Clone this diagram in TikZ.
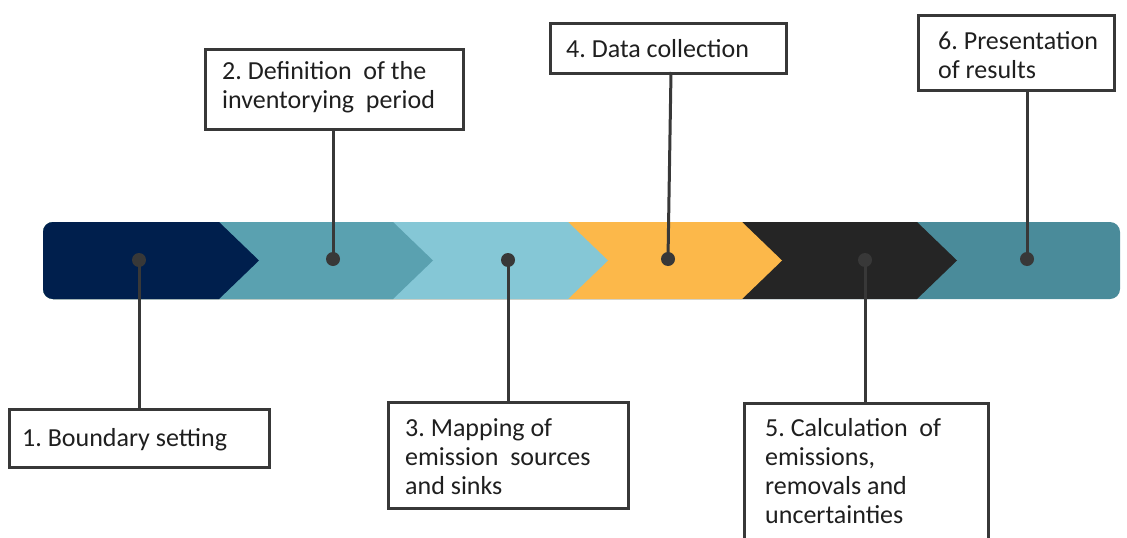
\documentclass[tikz,border=0pt]{standalone}
\usepackage{fontspec}
\setmainfont{Carlito}
\definecolor{cnavy}{HTML}{001F4D}
\definecolor{cteal}{HTML}{5AA1B0}
\definecolor{clight}{HTML}{85C7D6}
\definecolor{corange}{HTML}{FCB84A}
\definecolor{cblack}{HTML}{252525}
\definecolor{cteallast}{HTML}{4A8B9A}
\definecolor{cline}{HTML}{383838}
\begin{document}
\begin{tikzpicture}[x=1pt,y=-1pt,
  framebox/.style={draw=cline, line width=3pt, fill=white, anchor=north west, inner sep=0pt},
  boxtext/.style={anchor=west, align=left, inner sep=0pt,
    font=\fontsize{26}{29}\selectfont\frenchspacing, text=black!88},
  conn/.style={draw=cline, line width=3pt},
  dotnode/.style={circle, fill=cline, minimum size=14pt, inner sep=0pt}]
\clip (0,0) rectangle (1127,538);
\fill[white] (0,0) rectangle (1127,538);
% bar
\begin{scope}
\clip[rounded corners=10pt] (43,222) rectangle (1120,299);
\fill[cteallast] (40,220) rectangle (1125,302);
\fill[cblack]  (40,220) -- (917,220) -- (917,222) -- (957,260.5) -- (917,299) -- (917,302) -- (40,302) -- cycle;
\fill[corange] (40,220) -- (742,220) -- (742,222) -- (782,260.5) -- (742,299) -- (742,302) -- (40,302) -- cycle;
\fill[clight]  (40,220) -- (568,220) -- (568,222) -- (608,260.5) -- (568,299) -- (568,302) -- (40,302) -- cycle;
\fill[cteal]   (40,220) -- (393,220) -- (393,222) -- (433,260.5) -- (393,299) -- (393,302) -- (40,302) -- cycle;
\fill[cnavy]   (40,220) -- (219,220) -- (219,222) -- (259,260.5) -- (219,299) -- (219,302) -- (40,302) -- cycle;
\end{scope}
% dots
\node[dotnode] (d1) at (139,260) {};
\node[dotnode] (d2) at (333,259) {};
\node[dotnode] (d3) at (508,260) {};
\node[dotnode] (d4) at (668,259) {};
\node[dotnode] (d5) at (865,260) {};
\node[dotnode] (d6) at (1027,259) {};
% boxes
\node[framebox, minimum width=260pt, minimum height=58pt] (b1) at (8,408) {};
\node[framebox, minimum width=258pt, minimum height=80pt] (b2) at (204,48) {};
\node[framebox, minimum width=240pt, minimum height=106pt] (b3) at (387,401) {};
\node[framebox, minimum width=236pt, minimum height=50pt] (b4) at (549,22) {};
\node[framebox, minimum width=244pt, minimum height=140pt] (b5) at (743,402) {};
\node[framebox, minimum width=196pt, minimum height=75pt] (b6) at (917,14) {};
% texts
\node[boxtext] (t1) at ([xshift=14pt,yshift=-1pt]b1.west) {1. Boundary setting};
\node[boxtext] (t2) at ([xshift=18pt,yshift=2pt]b2.west) {2. Definition\ \ of the\\inventorying\ \ period};
\node[boxtext] (t3) at ([xshift=18pt,yshift=-1pt]b3.west) {3. Mapping of\\emission\ \ sources\\and sinks};
\node[boxtext] (t4) at ([xshift=17pt]b4.west) {4. Data collection};
\node[boxtext] (t5) at ([xshift=22pt,yshift=2pt]b5.west) {5. Calculation\ \ of\\emissions,\\removals and\\uncertainties};
\node[boxtext] (t6) at ([xshift=21pt,yshift=-2pt]b6.west) {6. Presentation\\of results};
% connectors
\coordinate (c4) at (671,72);
\draw[conn] (d1.center) -- (d1 |- b1.north);
\draw[conn] (d2.center) -- (d2 |- b2.south);
\draw[conn] (d3.center) -- (d3 |- b3.north);
\draw[conn] (d4.center) -- (c4);
\draw[conn] (d5.center) -- (d5 |- b5.north);
\draw[conn] (d6.center) -- (d6 |- b6.south);
\end{tikzpicture}
\end{document}
